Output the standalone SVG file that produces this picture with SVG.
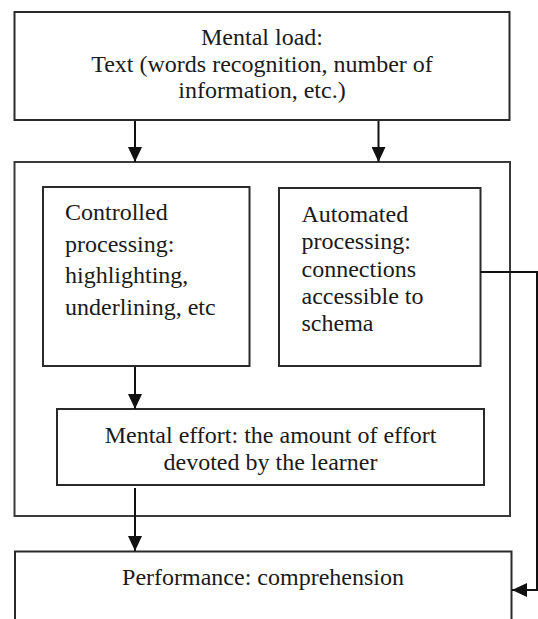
<svg xmlns="http://www.w3.org/2000/svg" width="538" height="619" viewBox="0 0 538 619">
  <defs>
    <style>
      .box { fill: #ffffff; stroke: #2a2a2a; stroke-width: 2; }
      .outer { fill: none; stroke: #3a3a3a; stroke-width: 2; }
      .lbl { font-family: "Liberation Serif", "Times New Roman", serif; font-size: 24px; fill: #1a1a1a; }
      .c { text-anchor: middle; }
      .edge { fill: none; stroke: #111111; stroke-width: 2; }
    </style>
    <marker id="arrow" markerUnits="userSpaceOnUse" markerWidth="15" markerHeight="14" refX="15" refY="7" orient="auto">
      <path d="M0,0 L15,7 L0,14 Z" fill="#111111"/>
    </marker>
  </defs>
  <rect width="538" height="619" fill="#ffffff"/>

  <g id="mental-load">
    <rect class="box" x="14.5" y="12" width="495" height="108"/>
    <text class="lbl c" x="262" y="45">Mental load:</text>
    <text class="lbl c" x="262" y="71.7">Text (words recognition, number of</text>
    <text class="lbl c" x="262" y="98.3">information, etc.)</text>
  </g>

  <g id="processing-group">
    <rect class="outer" x="14.5" y="162" width="495.5" height="354"/>
  </g>

  <g id="controlled-processing">
    <rect class="box" x="43" y="187" width="206.5" height="179"/>
    <text class="lbl" x="65" y="220">Controlled</text>
    <text class="lbl" x="65" y="251.5">processing:</text>
    <text class="lbl" x="65" y="283">highlighting,</text>
    <text class="lbl" x="65" y="314.5">underlining, etc</text>
  </g>

  <g id="automated-processing">
    <rect class="box" x="279" y="188" width="201.5" height="178"/>
    <text class="lbl" x="301.5" y="221.5">Automated</text>
    <text class="lbl" x="301.5" y="249">processing:</text>
    <text class="lbl" x="301.5" y="276.5">connections</text>
    <text class="lbl" x="301.5" y="303.5">accessible to</text>
    <text class="lbl" x="301.5" y="330.5">schema</text>
  </g>

  <g id="mental-effort">
    <rect class="box" x="57" y="409" width="427" height="76"/>
    <text class="lbl c" x="270.5" y="443.3">Mental effort: the amount of effort</text>
    <text class="lbl c" x="270.5" y="470">devoted by the learner</text>
  </g>

  <g id="performance">
    <rect class="box" x="15" y="551.5" width="496.5" height="100"/>
    <text class="lbl c" x="263" y="585">Performance: comprehension</text>
  </g>

  <g id="connectors">
    <path class="edge" d="M135,121 V162" marker-end="url(#arrow)"/>
    <path class="edge" d="M378.5,121 V162" marker-end="url(#arrow)"/>
    <path class="edge" d="M135,367 V409" marker-end="url(#arrow)"/>
    <path class="edge" d="M135,488 V551" marker-end="url(#arrow)"/>
    <path class="edge" d="M480.5,272 H537 V590 H512" marker-end="url(#arrow)"/>
  </g>
</svg>
